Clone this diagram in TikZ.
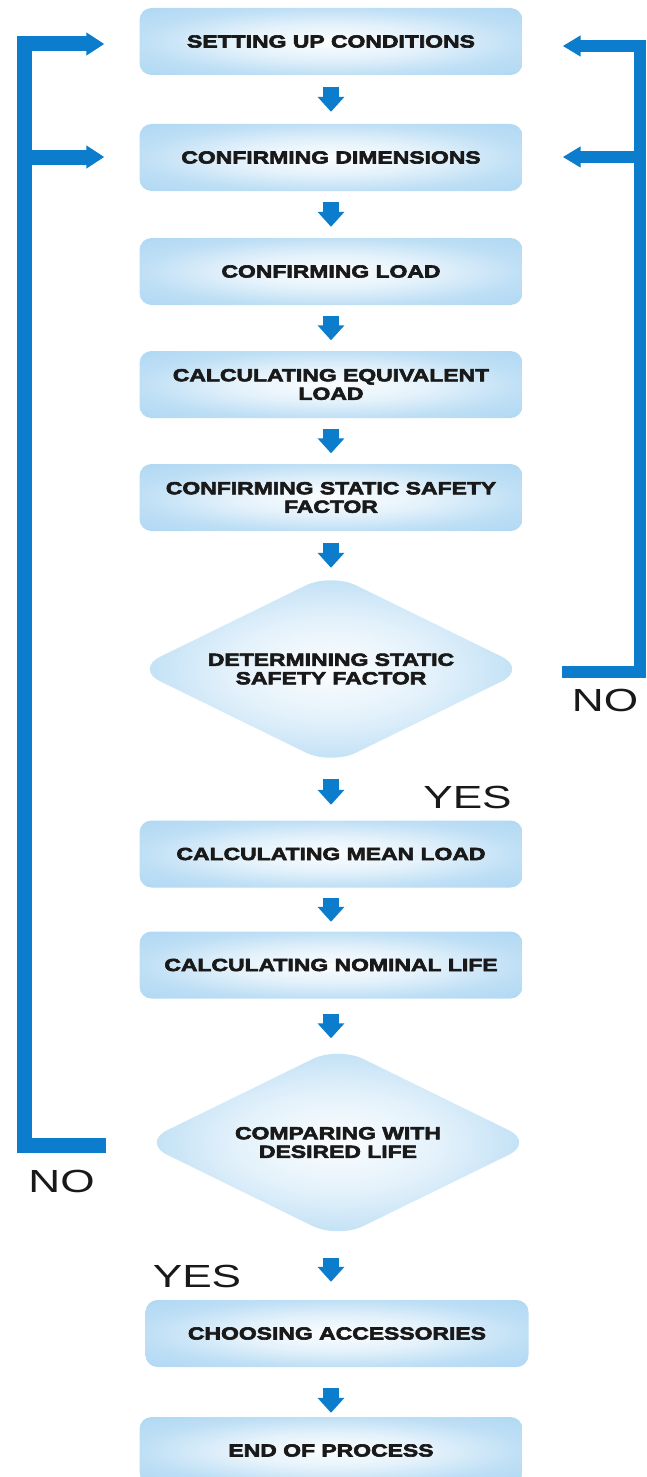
\documentclass[tikz,border=0pt]{standalone}
\usepackage{fontspec}
\usetikzlibrary{arrows.meta,shapes.geometric}
\newfontfamily\boxfont[FakeStretch=1.31,FakeBold=3.6]{Liberation Sans Bold}
\newfontfamily\labfont[FakeStretch=1.38]{Liberation Sans}
\definecolor{conn}{RGB}{12,124,204}
\definecolor{lb}{RGB}{176,216,243}
\definecolor{txt}{RGB}{25,25,25}
\colorlet{lbmid}{lb!35!white}
\colorlet{lbc}{lb!4!white}
\colorlet{lbedge}{lb!82!white}
\pgfdeclareradialshading{boxshade}{\pgfpoint{0bp}{0bp}}{color(0bp)=(lbc); color(13bp)=(lbmid); color(25bp)=(lbedge); color(35bp)=(lb); color(50bp)=(lb)}
\tikzset{
  stepbox/.style={rectangle, rounded corners=12pt, minimum width=383pt, minimum height=67pt,
    inner sep=0pt, shade, shading=boxshade, text=txt, align=center,
    font=\boxfont\fontsize{17.5}{18.5}\selectfont},
  decbox/.style={diamond, aspect=2.05, rounded corners=28pt, minimum width=392pt, minimum height=192pt,
    inner sep=0pt, shade, shading=boxshade, text=txt, align=center,
    font=\boxfont\fontsize{17.5}{18.5}\selectfont},
  flow/.style={draw=conn, line width=16pt, -{Triangle[width=26pt,length=15pt]}},
  lbr/.style={draw=conn, line width=15pt, -{Triangle[width=22pt,length=18pt]}},
  rbr/.style={draw=conn, line width=12pt, -{Triangle[width=20pt,length=18pt]}},
  lab/.style={inner sep=0pt, text=txt, font=\labfont\fontsize{32}{34}\selectfont}
}
\begin{document}
\begin{tikzpicture}[x=1pt,y=-1pt]
\useasboundingbox (0,0) rectangle (646,1477);
\fill[white] (0,0) rectangle (646,1477);

% process boxes
\node[stepbox] (b1) at (331,41.5) {SETTING UP CONDITIONS};
\node[stepbox] (b2) at (331,157.5) {CONFIRMING DIMENSIONS};
\node[stepbox] (b3) at (331,271.5) {CONFIRMING LOAD};
\node[stepbox] (b4) at (331,384.5) {CALCULATING EQUIVALENT\\LOAD};
\node[stepbox] (b5) at (331,497.5) {CONFIRMING STATIC SAFETY\\FACTOR};
\node[decbox] (d1) at (331,669) {DETERMINING STATIC\\SAFETY FACTOR};
\node[stepbox] (b6) at (331,854) {CALCULATING MEAN LOAD};
\node[stepbox] (b7) at (331,965) {CALCULATING NOMINAL LIFE};
\node[decbox] (d2) at (338,1142.5) {COMPARING WITH\\DESIRED LIFE};
\node[stepbox] (b8) at (337,1333.5) {CHOOSING ACCESSORIES};
\node[stepbox] (b9) at (331,1450.5) {END OF PROCESS};

\coordinate (ax) at (331,0);

% downward flow arrows
\draw[flow, shorten <=12pt, shorten >=12pt] (b1) -- (b2);
\draw[flow, shorten <=11pt, shorten >=11pt] (b2) -- (b3);
\draw[flow, shorten <=10.5pt, shorten >=10.5pt] (b3) -- (b4);
\draw[flow, shorten <=10.5pt, shorten >=10.5pt] (b4) -- (b5);
\draw[flow, shorten <=12pt, shorten >=5pt] (b5) -- (d1);
\draw[flow, shorten <=14pt, shorten >=15.5pt] (d1) -- (b6);
\draw[flow, shorten <=10.5pt, shorten >=9.5pt] (b6) -- (b7);
\draw[flow, shorten <=15.5pt, shorten >=8pt] (b7.south) -- (d2.north -| ax);
\draw[flow, shorten <=19.5pt, shorten >=18pt] (d2.south -| ax) -- (b8.north -| ax);
\draw[flow, shorten <=21pt, shorten >=4pt] (b8.south -| ax) -- (b9.north);

% left loop (NO from comparing with desired life)
\coordinate (LN) at (106,1145);
\coordinate (LT) at (24,44);
\coordinate (L2) at (24,157);
\draw[lbr, shorten >=35pt] (LN) -| (LT) -- (LT -| b1.west);
\draw[lbr, shorten >=35pt] (L2) -- (L2 -| b2.west);

% right loop (NO from determining static safety factor)
\coordinate (RN) at (562,672);
\coordinate (RT) at (640,46);
\coordinate (R2) at (640,157);
\draw[rbr, shorten >=40pt] (RN) -| (RT) -- (RT -| b1.east);
\draw[rbr, shorten >=40pt] (R2) -- (R2 -| b2.east);

% labels
\node[lab, anchor=base] (no1) at (605,711) {NO};
\node[lab, anchor=base] (yes1) at (467.5,808) {YES};
\node[lab, anchor=base] (no2) at (61.5,1192) {NO};
\node[lab, anchor=base] (yes2) at (197,1287) {YES};
\end{tikzpicture}
\end{document}
